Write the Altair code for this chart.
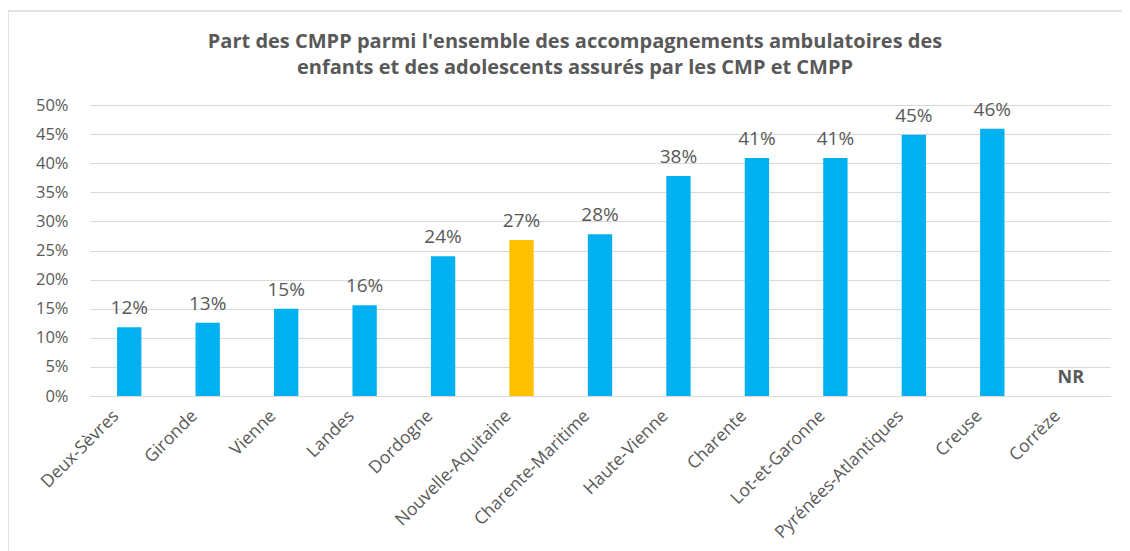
import altair as alt
import pandas as pd

categories = ["Deux-Sèvres", "Gironde", "Vienne", "Landes", "Dordogne",
              "Nouvelle-Aquitaine", "Charente-Maritime", "Haute-Vienne",
              "Charente", "Lot-et-Garonne", "Pyrénées-Atlantiques", "Creuse", "Corrèze"]
values = [0.118, 0.126, 0.150, 0.156, 0.240, 0.268, 0.278, 0.378, 0.409, 0.409, 0.449, 0.459, None]
groups = ["dep"] * 5 + ["region"] + ["dep"] * 7
nr_labels = ["NR" if v is None else "" for v in values]
y_ticks = [0.0, 0.05, 0.1, 0.15, 0.2, 0.25, 0.3, 0.35, 0.4, 0.45, 0.5]

df = pd.DataFrame({"cat": categories, "val": values, "grp": groups, "nr": nr_labels})

TXT = "#595959"
FONT = "Open Sans"

xenc = alt.X("cat:N", sort=categories, title=None,
             scale=alt.Scale(paddingInner=0.69, paddingOuter=0.345),
             axis=alt.Axis(labelAngle=-45, labelAlign="right", labelBaseline="middle",
                           labelFontSize=17.5, labelColor=TXT, labelFont=FONT,
                           ticks=False, domain=False, labelPadding=17, labelOffset=-13,
                           grid=False))
yenc = alt.Y("val:Q", title=None,
             scale=alt.Scale(domain=[0, 0.5], nice=False),
             axis=alt.Axis(format=".0%", values=y_ticks, labelOverlap=False,
                           labelFontSize=16.5, labelColor=TXT, labelFont=FONT,
                           ticks=False, domain=False, labelPadding=22,
                           grid=True, gridColor="#d9d9d9", gridWidth=1))

base = alt.Chart(df)

bars = base.mark_bar().encode(
    x=xenc, y=yenc,
    color=alt.Color("grp:N", scale=alt.Scale(domain=["dep", "region"],
                                             range=["#00B0F0", "#FFC000"]), legend=None),
)

labels = base.transform_filter("datum.val != null").mark_text(
    baseline="bottom", dy=-9, fontSize=19, color=TXT, font=FONT
).encode(x=xenc, y=yenc, text=alt.Text("val:Q", format=".0%"))

nr = base.transform_filter("datum.nr == 'NR'").transform_calculate(
    val="0"
).mark_text(
    baseline="bottom", dy=-9, fontSize=18, fontWeight="bold", color=TXT, font=FONT
).encode(x=xenc, y=yenc, text="nr:N")

frame = alt.Chart(pd.DataFrame({"k": [0]})).mark_rect(
    fill=None, stroke="#d9d9d9", strokeWidth=1.5
).encode(x=alt.value(-82), x2=alt.value(1040), y=alt.value(-94), y2=alt.value(460))

chart = alt.layer(frame, bars, labels, nr).properties(
    width=1020, height=291,
    title=alt.TitleParams(
        ["Part des CMPP parmi l'ensemble des accompagnements ambulatoires des",
         "enfants et des adolescents assurés par les CMP et CMPP"],
        font=FONT, fontSize=20, fontWeight="bold", color=TXT, anchor="middle",
        dx=-25, offset=-68, lineHeight=26),
    autosize=alt.AutoSizeParams(type="none"),
    padding={"left": 82, "top": 97, "right": 12, "bottom": 155},
).configure_view(stroke=None)

chart.save("out.html", embed_options={"renderer": "svg", "actions": False})
